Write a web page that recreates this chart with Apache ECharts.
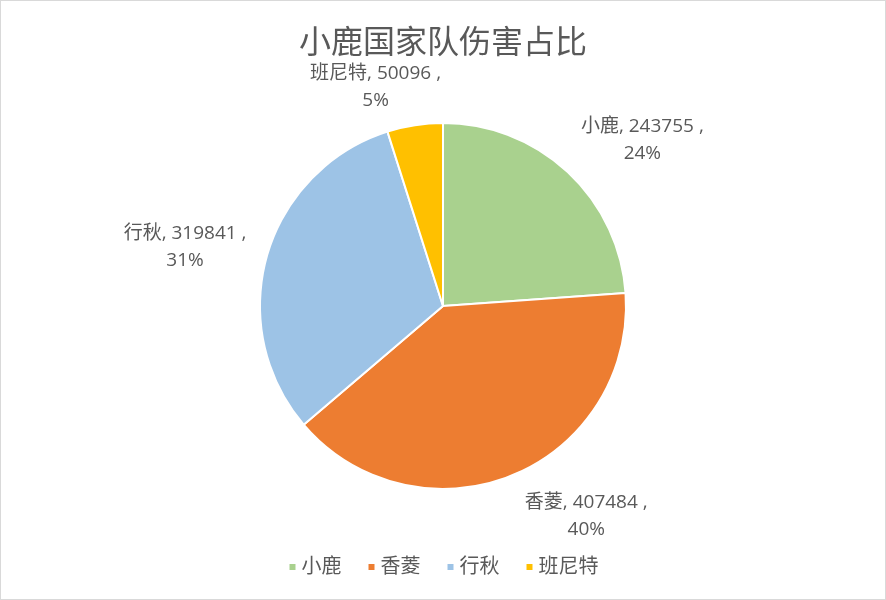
<!DOCTYPE html>
<html><head><meta charset="utf-8">
<script src="https://cdn.jsdelivr.net/npm/echarts@6/dist/echarts.min.js"></script>
<style>html,body{margin:0;padding:0;background:#fff}#c{width:884px;height:598px;border:1px solid #d9d9d9}</style>
</head><body><div id="c"></div>
<script>
const categories = ['小鹿', '香菱', '行秋', '班尼特'];
const values = [243755, 407484, 319841, 50096];
const colors = ['#A9D18E', '#ED7D31', '#9DC3E6', '#FFC000'];
const titleText = '小鹿国家队伤害占比';

const labelShift = [[0, -23], [3, 30], [-4, -5], [33, -26]];

const chart = echarts.init(document.getElementById('c'));
const font = '"Open Sans", "Noto Sans CJK SC", sans-serif';
chart.setOption({
  animation: false,
  title: { text: titleText, left: 'center', top: 19, textStyle: { fontFamily: '"Noto Sans CJK SC", sans-serif', fontSize: 32, fontWeight: 'normal', color: '#595959' } },
  legend: { data: categories, bottom: 17, left: 'center', itemWidth: 8, itemHeight: 8, itemGap: 25, icon: 'rect',
    textStyle: { fontFamily: font, fontSize: 20, color: '#595959' } },
  series: [{
    type: 'pie', center: [442, 305], radius: 183, startAngle: 90, clockwise: true,
    data: categories.map((c, i) => ({ name: c, value: values[i], itemStyle: { color: colors[i] } })),
    itemStyle: { borderColor: '#fff', borderWidth: 2 },
    percentPrecision: 0,
    label: { show: true, position: 'outside', formatter: '{b}, {c} ,\n{d}%', fontFamily: font, fontSize: 19, color: '#595959', lineHeight: 27 },
    labelLine: { show: false, length: 12, length2: 0 },
    labelLayout: function (p) {
      const r = p.labelRect, s = labelShift[p.dataIndex];
      return { x: r.x + r.width / 2 + s[0], y: r.y + s[1], align: 'center', verticalAlign: 'top' };
    }
  }]
});
</script></body></html>
